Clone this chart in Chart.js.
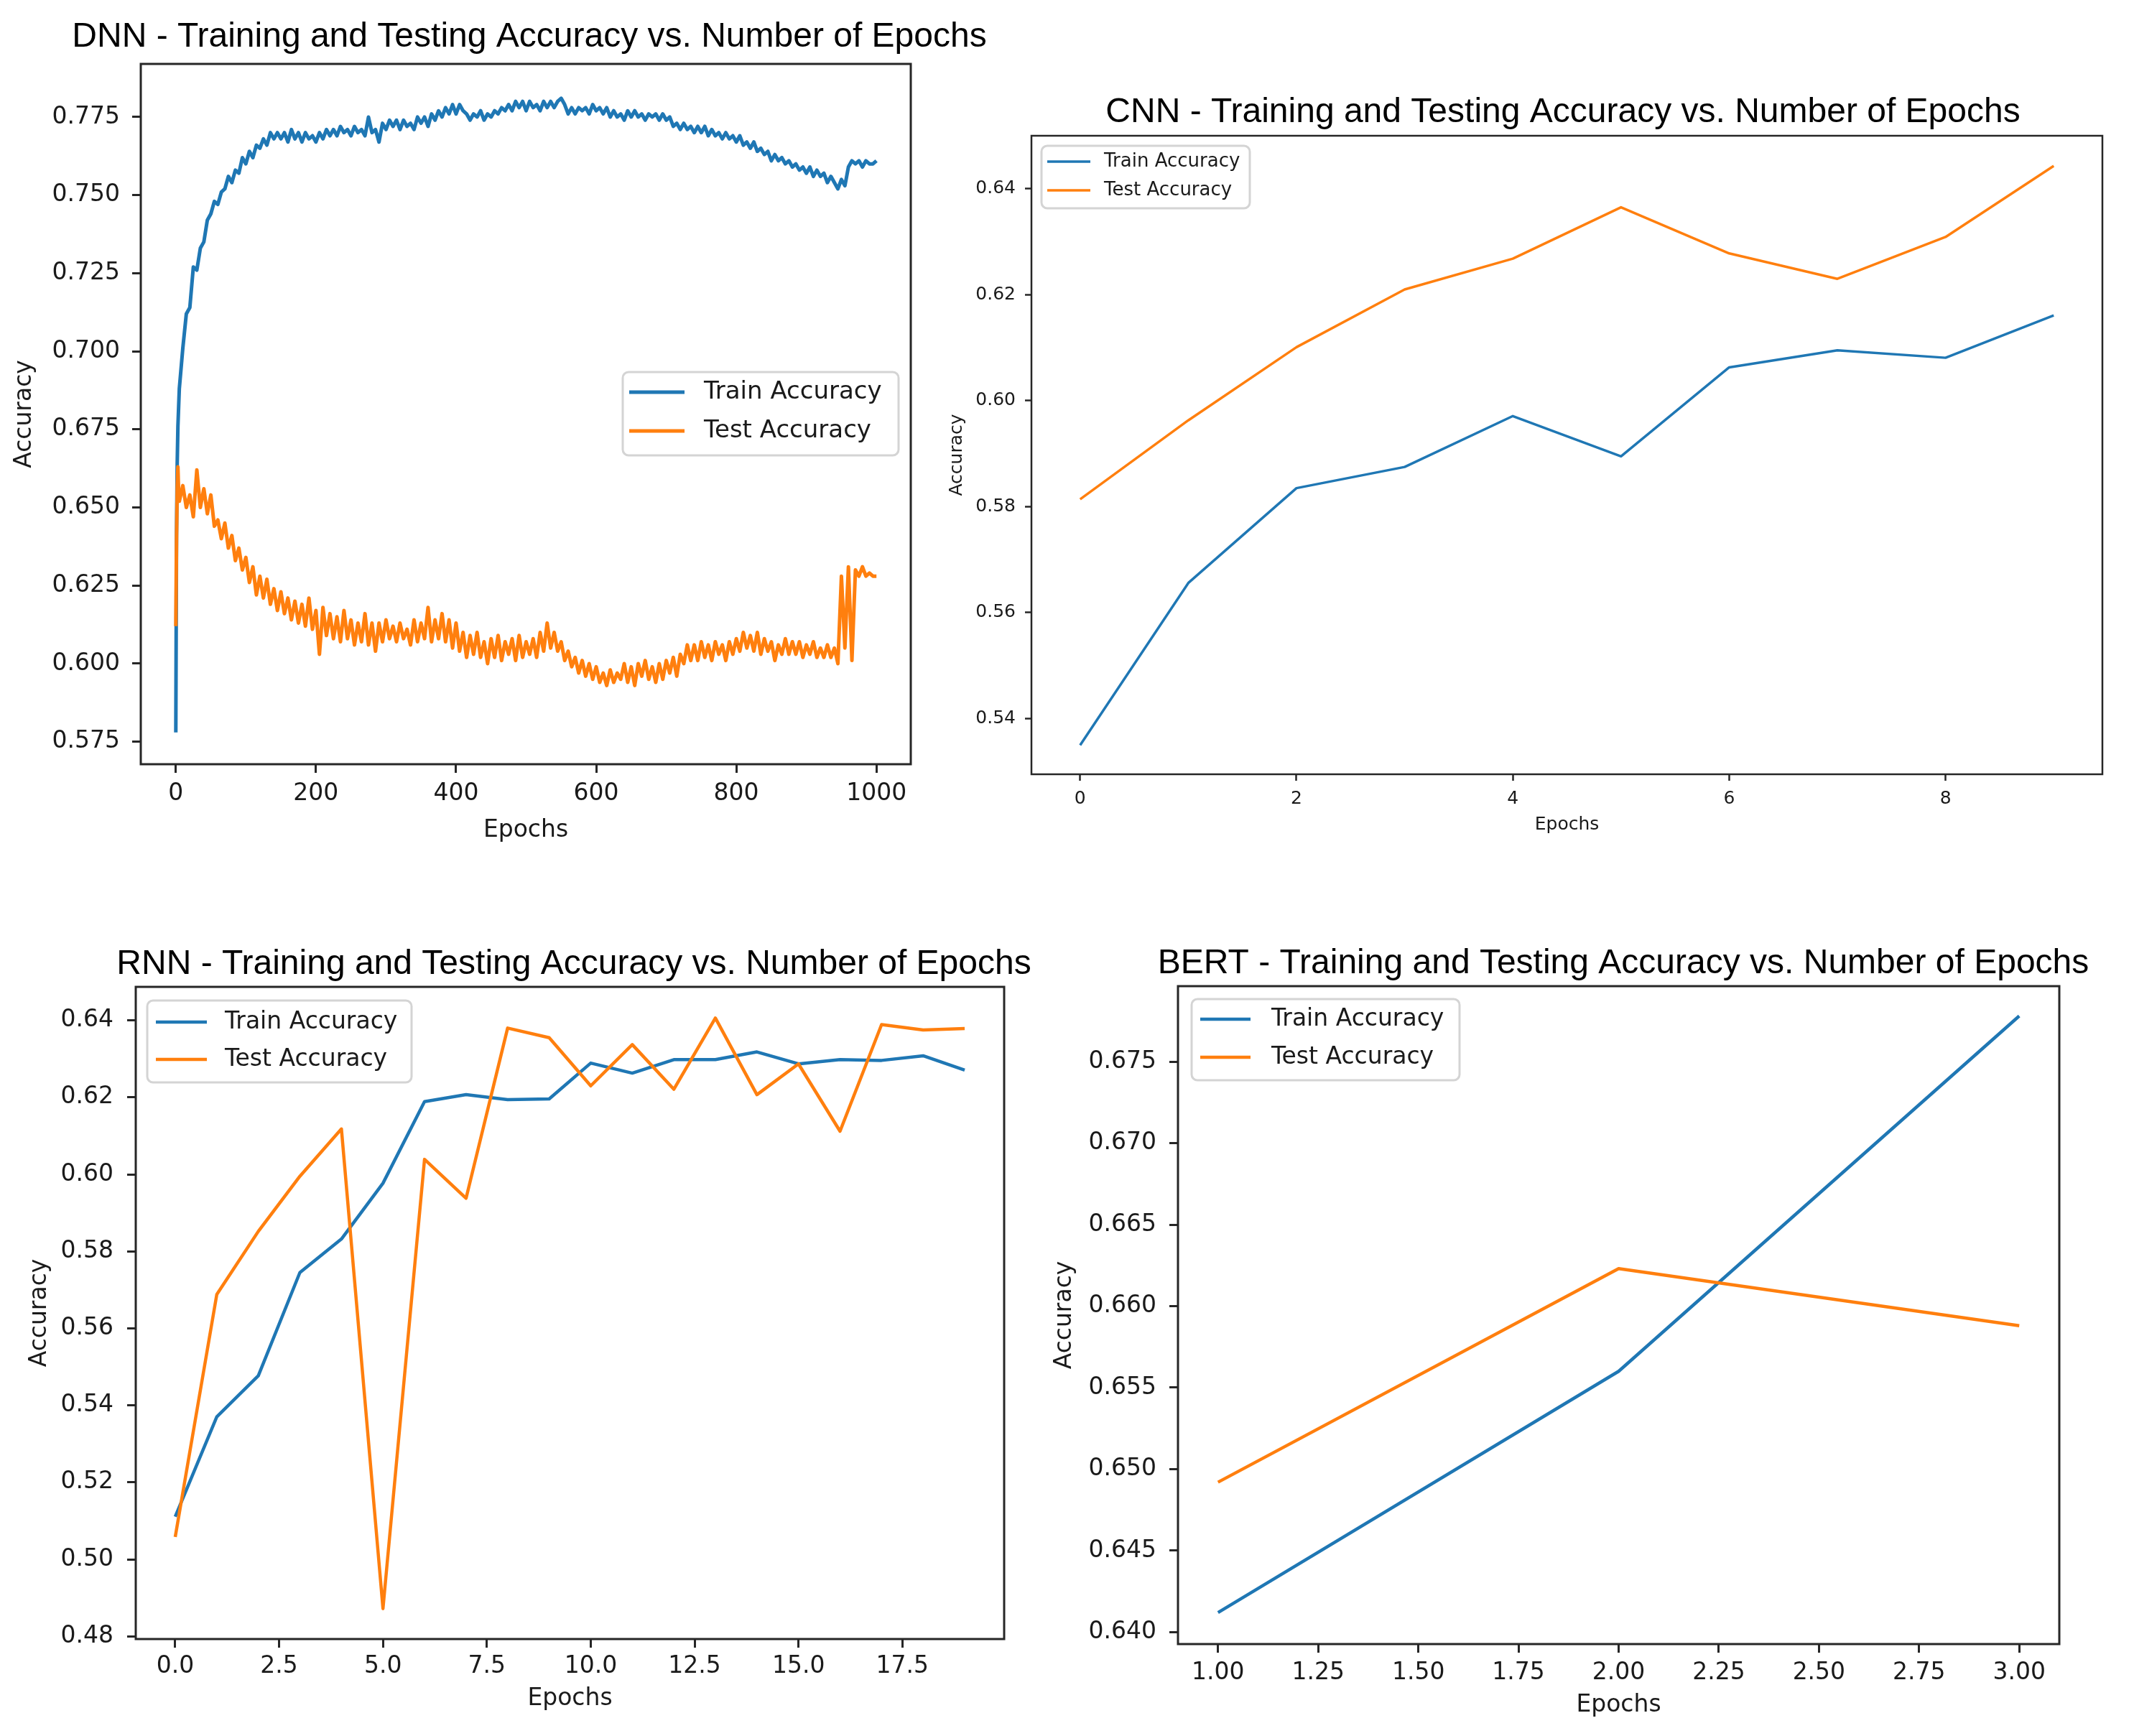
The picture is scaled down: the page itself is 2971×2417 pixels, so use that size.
<!DOCTYPE html>
<html>
<head>
<meta charset="utf-8">
<title>Training and Testing Accuracy vs. Number of Epochs</title>
<script src="https://cdn.jsdelivr.net/npm/chart.js@4.4.1/dist/chart.umd.min.js"></script>
<style>
    html, body { margin: 0; padding: 0; background: #ffffff; }
    body { width: 2971px; height: 2417px; position: relative; overflow: hidden; }
    canvas { position: absolute; }
</style>
</head>
<body>
<canvas id="dnnChart"></canvas>
<canvas id="cnnChart"></canvas>
<canvas id="rnnChart"></canvas>
<canvas id="bertChart"></canvas>
<script>
const dnnEpochs = [
    0, 1, 2, 3, 4, 5,
    10, 15, 20, 25, 30, 35, 40, 45, 50, 55, 60, 65, 70, 75, 80, 85, 90, 95, 100,
    105, 110, 115, 120, 125, 130, 135, 140, 145, 150, 155, 160, 165, 170, 175, 180, 185, 190, 195, 200,
    205, 210, 215, 220, 225, 230, 235, 240, 245, 250, 255, 260, 265, 270, 275, 280, 285, 290, 295, 300,
    305, 310, 315, 320, 325, 330, 335, 340, 345, 350, 355, 360, 365, 370, 375, 380, 385, 390, 395, 400,
    405, 410, 415, 420, 425, 430, 435, 440, 445, 450, 455, 460, 465, 470, 475, 480, 485, 490, 495, 500,
    505, 510, 515, 520, 525, 530, 535, 540, 545, 550, 555, 560, 565, 570, 575, 580, 585, 590, 595, 600,
    605, 610, 615, 620, 625, 630, 635, 640, 645, 650, 655, 660, 665, 670, 675, 680, 685, 690, 695, 700,
    705, 710, 715, 720, 725, 730, 735, 740, 745, 750, 755, 760, 765, 770, 775, 780, 785, 790, 795, 800,
    805, 810, 815, 820, 825, 830, 835, 840, 845, 850, 855, 860, 865, 870, 875, 880, 885, 890, 895, 900,
    905, 910, 915, 920, 925, 930, 935, 940, 945, 950, 955, 960, 965, 970, 975, 980, 985, 990, 995, 1000,
];
const dnnTrain = [
    0.578, 0.641, 0.664, 0.676, 0.682, 0.688,
    0.701, 0.712, 0.714, 0.727, 0.726, 0.733, 0.735, 0.742, 0.744, 0.748, 0.747, 0.751, 0.752, 0.756, 0.754, 0.758, 0.757, 0.762, 0.760,
    0.764, 0.762, 0.766, 0.765, 0.768, 0.766, 0.770, 0.768, 0.770, 0.768, 0.770, 0.767, 0.771, 0.768, 0.770, 0.767, 0.770, 0.768, 0.769, 0.767,
    0.770, 0.768, 0.771, 0.769, 0.771, 0.769, 0.772, 0.770, 0.771, 0.769, 0.772, 0.770, 0.771, 0.769, 0.775, 0.770, 0.771, 0.767, 0.773, 0.771,
    0.774, 0.772, 0.774, 0.771, 0.774, 0.772, 0.773, 0.771, 0.775, 0.773, 0.775, 0.772, 0.776, 0.774, 0.777, 0.775, 0.778, 0.776, 0.779, 0.776,
    0.779, 0.777, 0.776, 0.774, 0.776, 0.775, 0.777, 0.774, 0.776, 0.775, 0.777, 0.776, 0.778, 0.777, 0.779, 0.777, 0.780, 0.778, 0.780, 0.777,
    0.780, 0.778, 0.779, 0.777, 0.780, 0.778, 0.780, 0.778, 0.780, 0.781, 0.779, 0.776, 0.778, 0.776, 0.778, 0.777, 0.778, 0.776, 0.779, 0.777,
    0.778, 0.776, 0.778, 0.775, 0.777, 0.775, 0.776, 0.774, 0.777, 0.775, 0.777, 0.775, 0.776, 0.774, 0.776, 0.775, 0.776, 0.774, 0.776, 0.774,
    0.775, 0.772, 0.773, 0.771, 0.773, 0.771, 0.772, 0.770, 0.772, 0.770, 0.772, 0.769, 0.771, 0.769, 0.770, 0.768, 0.770, 0.768, 0.769, 0.767,
    0.769, 0.766, 0.767, 0.765, 0.767, 0.764, 0.765, 0.763, 0.764, 0.761, 0.763, 0.761, 0.762, 0.760, 0.761, 0.759, 0.760, 0.758, 0.759, 0.757,
    0.759, 0.756, 0.758, 0.756, 0.757, 0.754, 0.756, 0.754, 0.752, 0.755, 0.753, 0.759, 0.761, 0.760, 0.761, 0.759, 0.761, 0.760, 0.760, 0.761,
];
const dnnTest = [
    0.612, 0.640, 0.656, 0.663, 0.655, 0.652,
    0.657, 0.650, 0.654, 0.647, 0.662, 0.650, 0.656, 0.648, 0.654, 0.644, 0.646, 0.640, 0.645, 0.637, 0.641, 0.633, 0.637, 0.630, 0.634,
    0.626, 0.631, 0.622, 0.628, 0.621, 0.627, 0.619, 0.624, 0.617, 0.623, 0.616, 0.621, 0.614, 0.620, 0.613, 0.619, 0.612, 0.621, 0.611, 0.617,
    0.603, 0.618, 0.609, 0.616, 0.608, 0.615, 0.607, 0.617, 0.608, 0.614, 0.606, 0.613, 0.607, 0.616, 0.606, 0.613, 0.604, 0.613, 0.607, 0.614,
    0.608, 0.612, 0.607, 0.613, 0.608, 0.611, 0.606, 0.614, 0.607, 0.613, 0.608, 0.618, 0.607, 0.614, 0.608, 0.616, 0.607, 0.614, 0.605, 0.613,
    0.604, 0.610, 0.602, 0.609, 0.603, 0.610, 0.602, 0.607, 0.600, 0.608, 0.602, 0.609, 0.601, 0.607, 0.603, 0.608, 0.601, 0.609, 0.602, 0.607,
    0.603, 0.608, 0.602, 0.610, 0.604, 0.613, 0.605, 0.610, 0.604, 0.607, 0.601, 0.604, 0.599, 0.602, 0.597, 0.601, 0.596, 0.600, 0.595, 0.599,
    0.594, 0.597, 0.593, 0.598, 0.594, 0.597, 0.595, 0.600, 0.594, 0.599, 0.593, 0.600, 0.596, 0.601, 0.595, 0.599, 0.594, 0.600, 0.595, 0.601,
    0.597, 0.602, 0.596, 0.603, 0.600, 0.606, 0.601, 0.606, 0.601, 0.607, 0.602, 0.606, 0.601, 0.607, 0.603, 0.606, 0.601, 0.607, 0.603, 0.608,
    0.604, 0.610, 0.605, 0.609, 0.604, 0.610, 0.603, 0.608, 0.604, 0.607, 0.601, 0.606, 0.603, 0.608, 0.603, 0.607, 0.603, 0.607, 0.602, 0.606,
    0.603, 0.607, 0.602, 0.605, 0.602, 0.606, 0.602, 0.605, 0.600, 0.628, 0.605, 0.631, 0.601, 0.630, 0.628, 0.631, 0.628, 0.629, 0.628, 0.628,
];
const dnnXTicks = [0, 200, 400, 600, 800, 1000];
const dnnYTicks = [0.575, 0.6, 0.625, 0.65, 0.675, 0.7, 0.725, 0.75, 0.775];

// ---- CNN ----
const cnnEpochs = [0, 1, 2, 3, 4, 5, 6, 7, 8, 9];
const cnnTrain = [0.535, 0.5656, 0.5835, 0.5875, 0.5971, 0.5895, 0.6063, 0.6095, 0.6081, 0.6161];
const cnnTest = [0.5814, 0.5963, 0.6101, 0.621, 0.6268, 0.6365, 0.6278, 0.623, 0.6309, 0.6443];
const cnnXTicks = [0, 2, 4, 6, 8];
const cnnYTicks = [0.54, 0.56, 0.58, 0.6, 0.62, 0.64];

// ---- RNN ----
const rnnEpochs = [0, 1, 2, 3, 4, 5, 6, 7, 8, 9, 10, 11, 12, 13, 14, 15, 16, 17, 18, 19];
const rnnTrain = [0.5111, 0.537, 0.5477, 0.5745, 0.5832, 0.5977, 0.6189, 0.6207, 0.6194, 0.6196,
    0.6289, 0.6263, 0.6298, 0.6298, 0.6318, 0.6287, 0.6298, 0.6296, 0.6308, 0.6271];
const rnnTest = [0.5058, 0.5688, 0.5852, 0.5995, 0.6118, 0.4872, 0.6039, 0.5938, 0.638, 0.6355,
    0.623, 0.6337, 0.6221, 0.6406, 0.6207, 0.6287, 0.6112, 0.6389, 0.6375, 0.6379];
const rnnXTicks = [0, 2.5, 5, 7.5, 10, 12.5, 15, 17.5];
const rnnYTicks = [0.48, 0.5, 0.52, 0.54, 0.56, 0.58, 0.6, 0.62, 0.64];

// ---- BERT ----
const bertEpochs = [1, 2, 3];
const bertTrain = [0.6412, 0.656, 0.6778];
const bertTest = [0.6492, 0.6623, 0.6588];
const bertXTicks = [1, 1.25, 1.5, 1.75, 2, 2.25, 2.5, 2.75, 3];
const bertYTicks = [0.64, 0.645, 0.65, 0.655, 0.66, 0.665, 0.67, 0.675];

const BLUE = "#1f77b4";
const ORANGE = "#ff7f0e";
const INK = "#1a1a1a";
const SPINE = "#262626";
const TICK_FONT = "'DejaVu Sans', sans-serif";
const TITLE_FONT = "'Liberation Sans', Arial, sans-serif";

// page layout of each panel, in pixels of the 2971x2417 page
const panels = [
    {
        id: "dnnChart", name: "DNN",
        epochs: dnnEpochs, train: dnnTrain, test: dnnTest, xTicks: dnnXTicks, yTicks: dnnYTicks,
        xRange: [-50, 1049], yRange: [0.5678, 0.792], xDigits: 0, yDigits: 3,
        canvas: { x: 0, y: 0, w: 1400, h: 1215 },
        box: { left: 196, top: 89, right: 1268, bottom: 1064 },
        titleX: 737, titleY: 65, font: 33, tickLen: 12, xPad: 12.5, yPad: 17, lineWidth: 5, spine: 3,
        yLabelX: 34, xLabelY: 1156,
        legend: { left: 867, top: 518, right: 1251, bottom: 634, rows: [546, 600], lineX: [876, 953], textX: 980, size: 34 },
    },
    {
        id: "cnnChart", name: "CNN",
        epochs: cnnEpochs, train: cnnTrain, test: cnnTest, xTicks: cnnXTicks, yTicks: cnnYTicks,
        xRange: [-0.45, 9.45], yRange: [0.5295, 0.65], xDigits: 0, yDigits: 2,
        canvas: { x: 1300, y: 0, w: 1671, h: 1215 },
        box: { left: 1436, top: 189, right: 2927, bottom: 1078 },
        titleX: 2176, titleY: 170, font: 25, tickLen: 9, xPad: 12.5, yPad: 13, lineWidth: 3.5, spine: 2.5,
        yLabelX: 1332, xLabelY: 1148,
        legend: { left: 1450, top: 203, right: 1740, bottom: 290, rows: [225, 265], lineX: [1458, 1518], textX: 1537, size: 26 },
    },
    {
        id: "rnnChart", name: "RNN",
        epochs: rnnEpochs, train: rnnTrain, test: rnnTest, xTicks: rnnXTicks, yTicks: rnnYTicks,
        xRange: [-0.95, 19.95], yRange: [0.4793, 0.6487], xDigits: 1, yDigits: 2,
        canvas: { x: 0, y: 1215, w: 1455, h: 1202 },
        box: { left: 189, top: 1374, right: 1398, bottom: 2282 },
        titleX: 799, titleY: 1356, font: 33, tickLen: 12, xPad: 9.5, yPad: 19, lineWidth: 4.5, spine: 3,
        yLabelX: 55, xLabelY: 2365,
        legend: { left: 205, top: 1393, right: 573, bottom: 1507, rows: [1423, 1475], lineX: [217, 288], textX: 313, size: 33 },
    },
    {
        id: "bertChart", name: "BERT",
        epochs: bertEpochs, train: bertTrain, test: bertTest, xTicks: bertXTicks, yTicks: bertYTicks,
        xRange: [0.9, 3.1], yRange: [0.63927, 0.67963], xDigits: 2, yDigits: 3,
        canvas: { x: 1455, y: 1215, w: 1516, h: 1202 },
        box: { left: 1640, top: 1373, right: 2867, bottom: 2289 },
        titleX: 2260, titleY: 1355, font: 33, tickLen: 12, xPad: 11.5, yPad: 18, lineWidth: 4.5, spine: 3,
        yLabelX: 1482, xLabelY: 2374,
        legend: { left: 1659, top: 1391, right: 2032, bottom: 1504, rows: [1419, 1472], lineX: [1671, 1741], textX: 1770, size: 33 },
    },
];

// spines on all four sides, title and a matplotlib-style legend box
function framePlugin(p) {
    const ox = p.canvas.x;
    const oy = p.canvas.y;
    return {
        id: "mplFrame",
        afterDraw(chart) {
            const { ctx, chartArea: a } = chart;
            ctx.save();
            ctx.strokeStyle = SPINE;
            ctx.lineWidth = p.spine;
            ctx.strokeRect(a.left, a.top, a.right - a.left, a.bottom - a.top);

            ctx.fillStyle = "#000000";
            ctx.font = `48px ${TITLE_FONT}`;
            ctx.textAlign = "center";
            ctx.textBaseline = "alphabetic";
            ctx.fillText(`${p.name} - Training and Testing Accuracy vs. Number of Epochs`, p.titleX - ox, p.titleY - oy);

            const lg = p.legend;
            ctx.beginPath();
            ctx.roundRect(lg.left - ox, lg.top - oy, lg.right - lg.left, lg.bottom - lg.top, 8);
            ctx.fillStyle = "rgba(255, 255, 255, 0.8)";
            ctx.fill();
            ctx.strokeStyle = "#d4d4d4";
            ctx.lineWidth = 3;
            ctx.stroke();
            ctx.font = `${lg.size}px ${TICK_FONT}`;
            ctx.textAlign = "left";
            ctx.textBaseline = "middle";
            chart.data.datasets.forEach((ds, i) => {
                const y = lg.rows[i] - oy;
                ctx.strokeStyle = ds.borderColor;
                ctx.lineWidth = ds.borderWidth;
                ctx.beginPath();
                ctx.moveTo(lg.lineX[0] - ox, y);
                ctx.lineTo(lg.lineX[1] - ox, y);
                ctx.stroke();
                ctx.fillStyle = INK;
                ctx.fillText(ds.label, lg.textX - ox, y);
            });
            ctx.restore();
        },
    };
}

function buildPanel(p) {
    const el = document.getElementById(p.id);
    const c = p.canvas;
    const b = p.box;
    el.width = c.w;
    el.height = c.h;
    el.style.left = c.x + "px";
    el.style.top = c.y + "px";
    el.style.width = c.w + "px";
    el.style.height = c.h + "px";

    // axis bands sized so the axis titles land where they sit in the reference
    const yBand = b.left - p.yLabelX + p.font / 2;
    const xBand = p.xLabelY + p.font / 2 - b.bottom;
    const toPoints = (xs, ys) => xs.map((x, i) => ({ x: x, y: ys[i] }));
    const tickFont = { family: TICK_FONT, size: p.font, lineHeight: 1 };
    const grid = {
        drawOnChartArea: false,
        drawTicks: true,
        tickLength: p.tickLen,
        tickWidth: p.spine,
        tickColor: SPINE,
    };
    const line = (label, ys, color, order) => ({
        label: label,
        data: toPoints(p.epochs, ys),
        borderColor: color,
        backgroundColor: color,
        borderWidth: p.lineWidth,
        borderJoinStyle: "round",
        pointRadius: 0,
        tension: 0,
        fill: false,
        order: order,
    });

    return new Chart(el, {
        type: "line",
        data: {
            datasets: [
                line("Train Accuracy", p.train, BLUE, 1),
                line("Test Accuracy", p.test, ORANGE, 0),
            ],
        },
        options: {
            responsive: false,
            animation: false,
            devicePixelRatio: 1,
            events: [],
            layout: {
                padding: {
                    left: b.left - c.x - yBand,
                    top: b.top - c.y,
                    right: c.x + c.w - b.right,
                    bottom: c.y + c.h - b.bottom - xBand,
                },
            },
            plugins: {
                legend: { display: false },
                tooltip: { enabled: false },
            },
            scales: {
                x: {
                    type: "linear",
                    min: p.xRange[0],
                    max: p.xRange[1],
                    afterBuildTicks: (s) => { s.ticks = p.xTicks.map((v) => ({ value: v })); },
                    afterFit: (s) => { s.height = xBand; },
                    grid: grid,
                    border: { display: false },
                    ticks: {
                        autoSkip: false,
                        maxRotation: 0,
                        minRotation: 0,
                        padding: p.xPad,
                        color: INK,
                        font: tickFont,
                        callback: (v) => Number(v).toFixed(p.xDigits),
                    },
                    title: { display: true, text: "Epochs", color: INK, font: tickFont, padding: 0 },
                },
                y: {
                    type: "linear",
                    min: p.yRange[0],
                    max: p.yRange[1],
                    afterBuildTicks: (s) => { s.ticks = p.yTicks.map((v) => ({ value: v })); },
                    afterFit: (s) => { s.width = yBand; },
                    grid: grid,
                    border: { display: false },
                    ticks: {
                        autoSkip: false,
                        padding: p.yPad,
                        color: INK,
                        font: tickFont,
                        callback: (v) => Number(v).toFixed(p.yDigits),
                    },
                    title: { display: true, text: "Accuracy", color: INK, font: tickFont, padding: 0 },
                },
            },
        },
        plugins: [framePlugin(p)],
    });
}

panels.forEach(buildPanel);
</script>
</body>
</html>
